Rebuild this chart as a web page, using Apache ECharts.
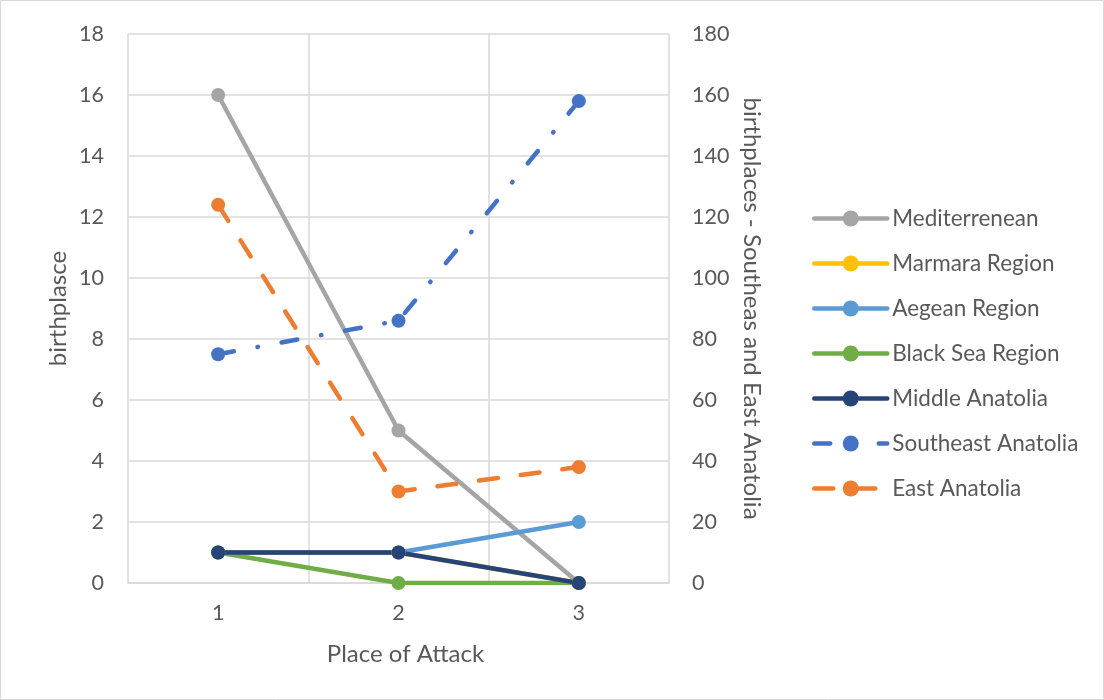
<!DOCTYPE html>
<html>
<head>
<meta charset="utf-8">
<style>
  html, body { margin: 0; padding: 0; background: #fff; }
  #chart { width: 1104px; height: 700px; }
</style>
<script src="https://cdn.jsdelivr.net/npm/echarts@6/dist/echarts.min.js"></script>
</head>
<body>
<div id="chart"></div>
<script>
// Place of attack categories
const categories = ['1', '2', '3'];

// Birthplace counts per region (left axis)
const mediterrenean = [16, 5, 0];
const marmaraRegion = [1, 1, 0];
const aegeanRegion = [1, 1, 2];
const blackSeaRegion = [1, 0, 0];
const middleAnatolia = [1, 1, 0];

// Birthplace counts for the eastern regions (right axis)
const southeastAnatolia = [75, 86, 158];
const eastAnatolia = [124, 30, 38];

const FONT = 'Lato';
const TEXT = '#595959';
const GRID = '#D9D9D9';
const TICK_SIZE = 21.5;
const TITLE_SIZE = 24;
const LEGEND_SIZE = 22.5;

function lineSeries(name, data, color, yAxisIndex, dash) {
  return {
    name: name,
    type: 'line',
    data: data,
    yAxisIndex: yAxisIndex,
    symbol: 'circle',
    symbolSize: 14,
    itemStyle: { color: color },
    lineStyle: { color: color, width: 4.5, type: dash || 'solid', cap: 'round' },
    emphasis: { disabled: true },
    animation: false
  };
}

const chart = echarts.init(document.getElementById('chart'), null, { renderer: 'canvas' });
chart.setOption({
  backgroundColor: '#fff',
  textStyle: { fontFamily: FONT },
  graphic: [{
    type: 'rect',
    shape: { x: 0.5, y: 0.5, width: 1103, height: 699 },
    style: { fill: 'none', stroke: GRID, lineWidth: 1 },
    silent: true
  }],
  grid: { left: 128, right: 435, top: 34, bottom: 117, containLabel: false },
  legend: {
    orient: 'vertical',
    left: 807,
    top: 202,
    itemWidth: 73,
    itemHeight: 20,
    itemGap: 22,
    lineStyle: { width: 4.5, cap: 'round' },
    textStyle: { fontFamily: FONT, fontSize: LEGEND_SIZE, color: TEXT, lineHeight: 20 },
    data: ['Mediterrenean', 'Marmara Region', 'Aegean Region', 'Black Sea Region',
           'Middle Anatolia', 'Southeast Anatolia', 'East Anatolia']
  },
  xAxis: {
    type: 'category',
    data: categories,
    boundaryGap: true,
    name: 'Place of Attack',
    nameLocation: 'middle',
    nameGap: 59,
    nameTextStyle: { fontFamily: FONT, fontSize: TITLE_SIZE, color: TEXT, padding: [0, 0, 0, 14] },
    axisLine: { show: true, lineStyle: { color: GRID, width: 1.5 } },
    axisTick: { show: false },
    axisLabel: { fontFamily: FONT, fontSize: TICK_SIZE, color: TEXT, margin: 19 },
    splitLine: { show: true, lineStyle: { color: GRID, width: 1.5 } }
  },
  yAxis: [{
    type: 'value',
    min: 0,
    max: 18,
    interval: 2,
    position: 'left',
    name: 'birthplasce',
    nameLocation: 'middle',
    nameGap: 58,
    nameTextStyle: { fontFamily: FONT, fontSize: TITLE_SIZE, color: TEXT },
    axisLine: { show: false },
    axisTick: { show: false },
    axisLabel: { fontFamily: FONT, fontSize: TICK_SIZE, color: TEXT, margin: 24 },
    splitLine: { show: true, lineStyle: { color: GRID, width: 1.5 } }
  }, {
    type: 'value',
    min: 0,
    max: 180,
    interval: 20,
    position: 'right',
    name: 'birthplaces - Southeas and East Anatolia',
    nameLocation: 'middle',
    nameRotate: -90,
    nameGap: 71,
    nameTextStyle: { fontFamily: FONT, fontSize: TITLE_SIZE, color: TEXT },
    axisLine: { show: false },
    axisTick: { show: false },
    axisLabel: { fontFamily: FONT, fontSize: TICK_SIZE, color: TEXT, margin: 23 },
    splitLine: { show: false }
  }],
  series: [
    lineSeries('Mediterrenean', mediterrenean, '#A5A5A5', 0),
    lineSeries('Marmara Region', marmaraRegion, '#FFC000', 0),
    lineSeries('Aegean Region', aegeanRegion, '#5B9BD5', 0),
    lineSeries('Black Sea Region', blackSeaRegion, '#70AD47', 0),
    lineSeries('Middle Anatolia', middleAnatolia, '#264478', 0),
    lineSeries('Southeast Anatolia', southeastAnatolia, '#4472C4', 1, [16, 24, 0.5, 24]),
    lineSeries('East Anatolia', eastAnatolia, '#ED7D31', 1, [19, 23])
  ]
});
</script>
</body>
</html>
